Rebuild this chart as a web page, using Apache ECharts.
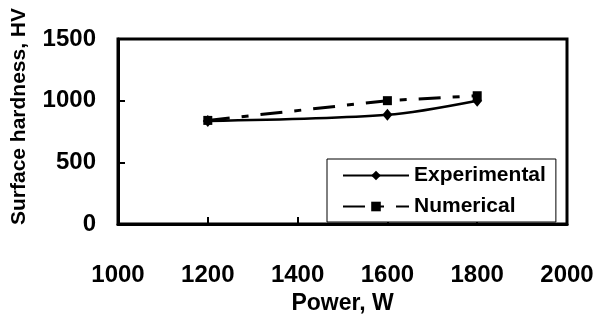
<!DOCTYPE html>
<html>
<head>
<meta charset="utf-8">
<script src="https://cdn.jsdelivr.net/npm/echarts@6/dist/echarts.min.js"></script>
<style>html,body{margin:0;padding:0;background:#fff;}#c{width:597px;height:320px;}</style>
</head>
<body>
<div id="c"></div>
<script>
var power = [1200, 1600, 1800];
var experimental = [835, 885, 1000];
var numerical = [840, 1000, 1040];
var xTicks = [1000, 1200, 1400, 1600, 1800, 2000];
var yTicks = [0, 500, 1000, 1500];

var FONT = '"Liberation Sans", Arial, sans-serif';
function pairs(xs, ys){ return xs.map(function(x,i){ return [x, ys[i]]; }); }
function plain(v){ return String(v); }

var chart = echarts.init(document.getElementById('c'), null, {renderer:'canvas'});
chart.setOption({
  animation: false,
  backgroundColor: '#fff',
  grid: { left: 118, right: 30, top: 39, bottom: 85, show: true, borderColor: '#000', borderWidth: 3, backgroundColor: 'transparent' },
  xAxis: {
    type: 'value', min: xTicks[0], max: xTicks[xTicks.length-1], interval: 200,
    name: 'Power, W', nameLocation: 'middle', nameGap: 68,
    nameTextStyle: { fontFamily: FONT, fontWeight: 'bold', fontSize: 23, color: '#000' },
    axisLine: { lineStyle: { color: '#000', width: 3 } },
    axisTick: { inside: true, length: 7, lineStyle: { color: '#000', width: 2 } },
    axisLabel: { margin: 39, formatter: plain, fontFamily: FONT, fontWeight: 'bold', fontSize: 24, color: '#000' },
    splitLine: { show: false }
  },
  yAxis: {
    type: 'value', min: yTicks[0], max: yTicks[yTicks.length-1], interval: 500,
    name: 'Surface hardness, HV', nameLocation: 'middle', nameGap: 88,
    nameTextStyle: { fontFamily: FONT, fontWeight: 'bold', fontSize: 21, color: '#000', padding: [0, 0, 0, 30] },
    axisLine: { lineStyle: { color: '#000', width: 3 } },
    axisTick: { inside: true, length: 7, lineStyle: { color: '#000', width: 2 } },
    axisLabel: { margin: 22, formatter: plain, fontFamily: FONT, fontWeight: 'bold', fontSize: 24, color: '#000' },
    splitLine: { show: false }
  },
  legend: {
    left: 327, top: 159, orient: 'vertical',
    padding: [6, 10, 5, 15], itemGap: 10,
    itemWidth: 66, itemHeight: 12,
    borderColor: '#000', borderWidth: 1, backgroundColor: '#fff',
    textStyle: { fontFamily: FONT, fontWeight: 'bold', fontSize: 21, color: '#000' },
    data: ['Experimental', 'Numerical']
  },
  series: [
    {
      name: 'Experimental', type: 'line', data: pairs(power, experimental),
      smooth: 0.3, symbol: 'diamond', symbolSize: [10, 12],
      lineStyle: { color: '#000', width: 2.5 },
      itemStyle: { color: '#000' }
    },
    {
      name: 'Numerical', type: 'line', data: pairs(power, numerical),
      symbol: 'rect', symbolSize: 9,
      lineStyle: { color: '#000', width: 3, type: [22, 12, 7, 12] },
      itemStyle: { color: '#000' }
    }
  ]
});
</script>
</body>
</html>
